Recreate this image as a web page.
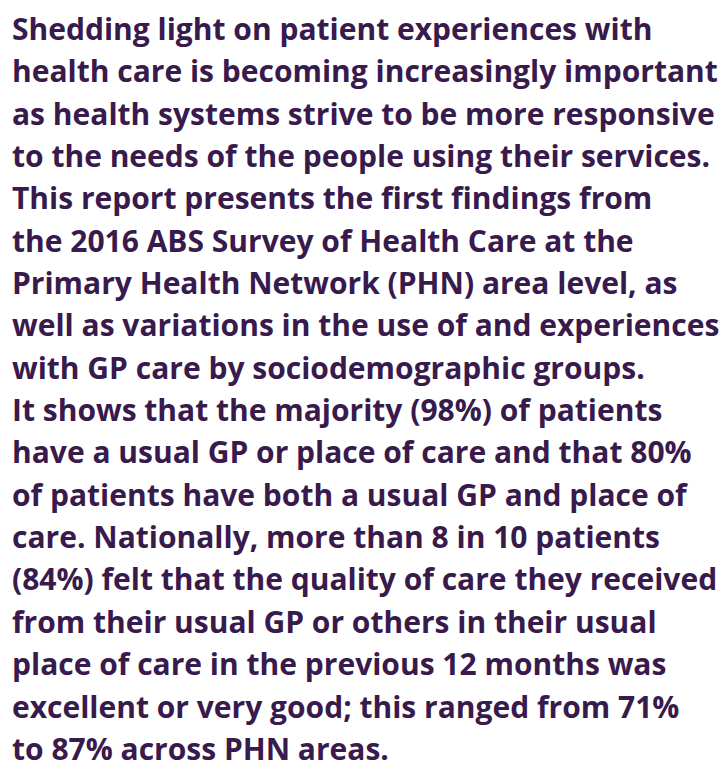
<!DOCTYPE html>
<html>
<head>
<meta charset="utf-8">
<script src="https://cdn.jsdelivr.net/npm/chart.js@4"></script>
<style>
  html, body { margin: 0; padding: 0; background: #fff; }
  #txt {
    position: absolute;
    left: 12px;
    top: 8px;
    font-family: "Open Sans", sans-serif;
    font-weight: 700;
    font-size: 30px;
    line-height: 42.35px;
    color: #381a4c;
    white-space: nowrap;
  }
</style>
</head>
<body>
<div id="txt"></div>
<script>
// TEXT LINES
const lines = [
  "Shedding light on patient experiences with",
  "health care is becoming increasingly important",
  "as health systems strive to be more responsive",
  "to the needs of the people using their services.",
  "This report presents the first findings from",
  "the 2016 ABS Survey of Health Care at the",
  "Primary Health Network (PHN) area level, as",
  "well as variations in the use of and experiences",
  "with GP care by sociodemographic groups.",
  "It shows that the majority (98%) of patients",
  "have a usual GP or place of care and that 80%",
  "of patients have both a usual GP and place of",
  "care. Nationally, more than 8 in 10 patients",
  "(84%) felt that the quality of care they received",
  "from their usual GP or others in their usual",
  "place of care in the previous 12 months was",
  "excellent or very good; this ranged from 71%",
  "to 87% across PHN areas.",
];

const box = document.getElementById("txt");
lines.forEach((l) => {
  const d = document.createElement("div");
  d.textContent = l;
  box.append(d);
});
</script>
</body>
</html>
